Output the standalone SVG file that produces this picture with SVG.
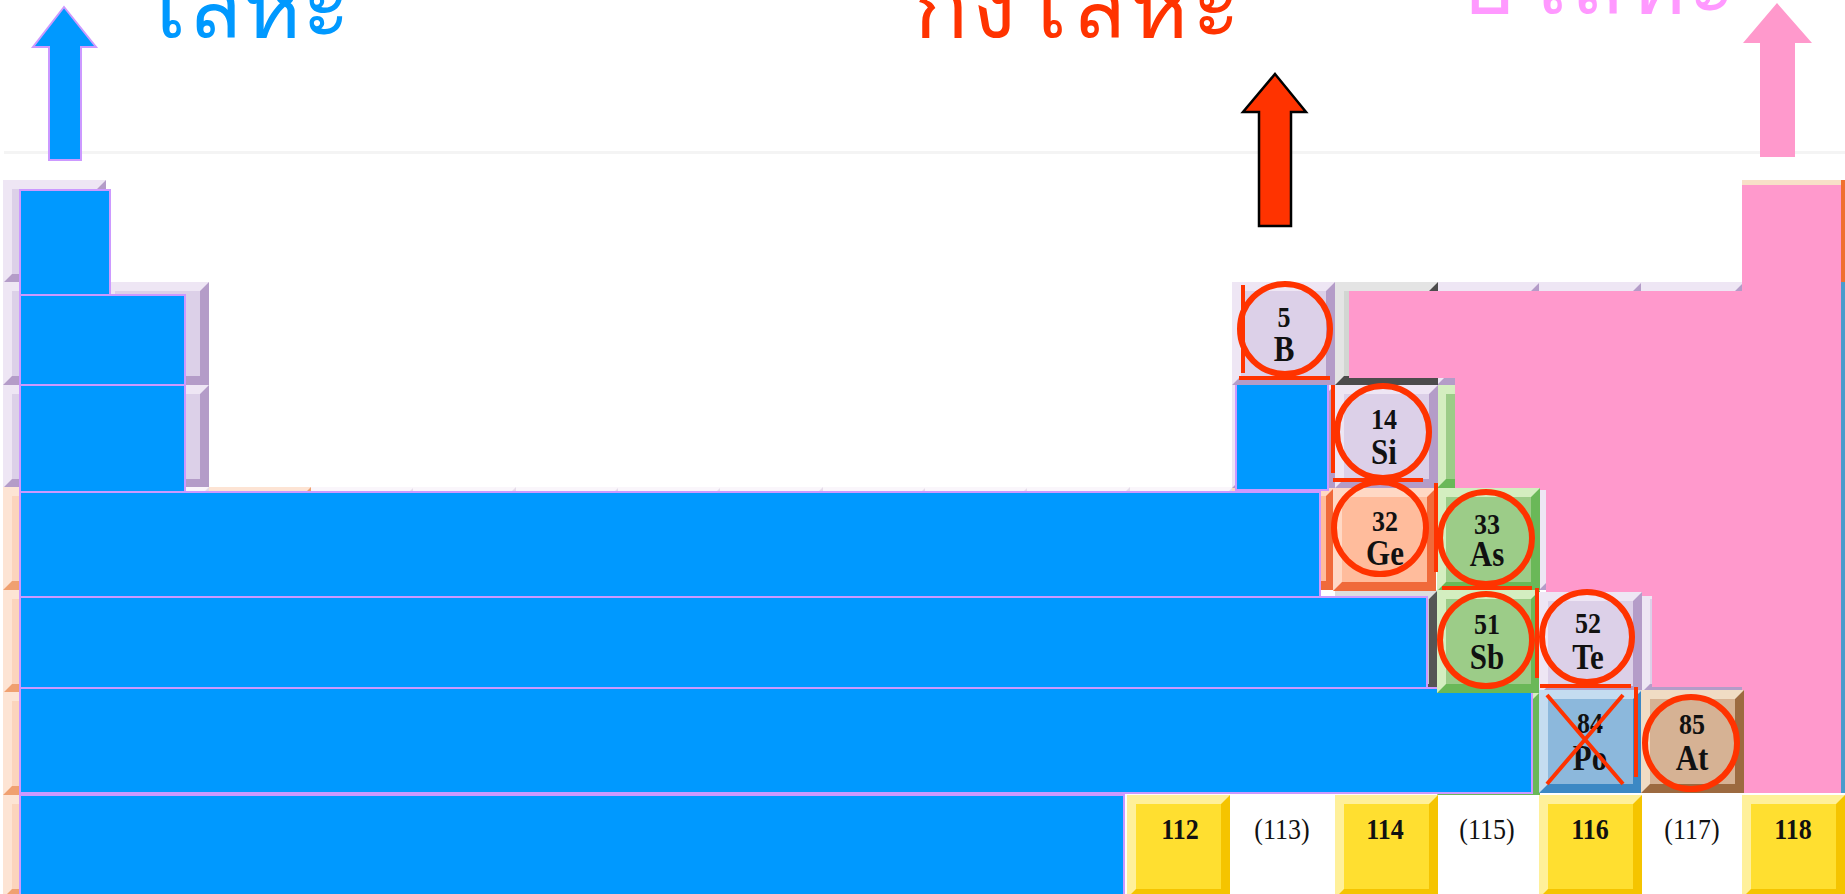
<svg xmlns="http://www.w3.org/2000/svg" width="1845" height="894" viewBox="0 0 1845 894">
<style>
.num,.sym,.lbl,.lbl2{font-family:"Liberation Serif",serif;text-anchor:middle;fill:#111;transform-box:fill-box;transform-origin:center;transform:scaleY(1.15)}
.num{font-weight:bold;font-size:26px}
.sym{font-weight:bold;font-size:31px}
.lbl{font-weight:bold;font-size:26px}
.lbl2{font-size:26px}
.thai{font-family:"Noto Sans",sans-serif;font-size:90px}
.lav{--dk:#b49cc8;--lt:#eee6f4;--fc:#dcd0e8}
.gry{--dk:#4c4c4c;--lt:#e4e4e4;--fc:#d2d6d2}
.grn{--dk:#6ab858;--lt:#d4eec0;--fc:#9ccc88}
.org{--dk:#f06a3a;--lt:#ffd8c4;--fc:#ffbc9c}
.pch{--dk:#f0a070;--lt:#fde4d4;--fc:#fcd4bc}
.blu{--dk:#3c88c4;--lt:#c4dcf0;--fc:#8cb8dc}
.brn{--dk:#9c6a40;--lt:#f0dcc4;--fc:#d6b294}
.ylw{--dk:#f5c400;--lt:#fff09a;--fc:#ffdf30}
.dgr{--dk:#555555;--lt:#dddddd;--fc:#c8c8c8}
.pal{--dk:#e6dcea;--lt:#faf6fb;--fc:#f4eef6}
.metal{fill:#0099ff;stroke:#cc99ff;stroke-width:2}
.mark{fill:none;stroke:#ff3300;stroke-width:6}
.mline{stroke:#ff3300;stroke-width:4;fill:none}
</style>
<defs>
<g id="cellshape">
<rect style="fill:var(--dk)" width="103" height="103"/>
<polygon style="fill:var(--lt)" points="0,0 103,0 94,9 9,9 9,94 0,103"/>
<rect style="fill:var(--fc)" x="9" y="9" width="85" height="85"/>
</g>
</defs>
<rect width="1845" height="894" fill="#ffffff"/>
<rect x="4" y="151" width="1841" height="3" fill="#f4f4f4"/>

<g id="table-background">
<g class="lav"><use href="#cellshape" x="3" y="180"/><use href="#cellshape" x="3" y="282"/><use href="#cellshape" x="3" y="385"/>
<use href="#cellshape" x="106" y="282"/><use href="#cellshape" x="106" y="385"/></g>
<g class="pch"><use href="#cellshape" x="3" y="487"/><use href="#cellshape" x="3" y="590"/><use href="#cellshape" x="3" y="692"/><use href="#cellshape" x="3" y="795"/><use href="#cellshape" x="208" y="487"/></g>
<g class="pal"><use href="#cellshape" x="106" y="487"/><use href="#cellshape" x="311" y="487"/><use href="#cellshape" x="413" y="487"/><use href="#cellshape" x="516" y="487"/><use href="#cellshape" x="618" y="487"/><use href="#cellshape" x="720" y="487"/><use href="#cellshape" x="823" y="487"/><use href="#cellshape" x="925" y="487"/><use href="#cellshape" x="1027" y="487"/><use href="#cellshape" x="1130" y="487"/></g>
<g class="org"><use href="#cellshape" x="1232" y="487"/></g>
<g class="lav"><use href="#cellshape" x="1437" y="282"/><use href="#cellshape" x="1539" y="282"/><use href="#cellshape" x="1641" y="282"/><use href="#cellshape" x="1232" y="385"/><use href="#cellshape" x="1539" y="487"/><use href="#cellshape" x="1641" y="590"/></g>
<g class="gry"><use href="#cellshape" x="1335" y="282"/></g>
<g class="grn"><use href="#cellshape" x="1437" y="385"/><use href="#cellshape" x="1437" y="692"/></g>
<g class="dgr"><use href="#cellshape" x="1335" y="590"/></g>
<rect x="1742" y="180" width="103" height="8" fill="#f8e0c8"/>
<rect x="1841" y="180" width="4" height="102" fill="#f07030"/>
<rect x="1841" y="282" width="4" height="511" fill="#4a9ccc"/>
</g>

<g id="metals">
<rect class="metal" x="20" y="190" width="90" height="105"/>
<rect class="metal" x="20" y="295" width="165" height="90"/>
<rect class="metal" x="20" y="385" width="165" height="107"/>
<rect class="metal" x="20" y="492" width="1300" height="105"/>
<rect class="metal" x="20" y="597" width="1407" height="91"/>
<rect class="metal" x="20" y="688" width="1512" height="105"/>
<rect class="metal" x="20" y="795" width="1104" height="110"/>
<rect class="metal" x="1236" y="383" width="92" height="107"/>
</g>

<g id="nonmetals">
<polygon fill="#ff99cc" points="1742,185 1841,185 1841,793 1742,793 1742,687 1652,687 1652,596 1546,596 1546,490 1455,490 1455,378 1349,378 1349,291 1742,291"/>
</g>

<g id="el-B" class="lav"><use href="#cellshape" x="1232" y="282"/><text class="num" x="1284" y="326">5</text><text class="sym" x="1284" y="359">B</text></g>
<g id="el-Si" class="lav"><use href="#cellshape" x="1335" y="385"/><text class="num" x="1384" y="428">14</text><text class="sym" x="1384" y="462">Si</text></g>
<g id="el-Ge" class="org"><use href="#cellshape" x="1333" y="488"/><text class="num" x="1385" y="530">32</text><text class="sym" x="1385" y="563">Ge</text></g>
<g id="el-As" class="grn"><use href="#cellshape" x="1437" y="488"/><text class="num" x="1487" y="533">33</text><text class="sym" x="1487" y="564">As</text></g>
<g id="el-Sb" class="grn"><use href="#cellshape" x="1437" y="590"/><text class="num" x="1487" y="633">51</text><text class="sym" x="1487" y="667">Sb</text></g>
<g id="el-Te" class="lav"><use href="#cellshape" x="1539" y="592"/><text class="num" x="1588" y="632">52</text><text class="sym" x="1588" y="667">Te</text></g>
<g id="el-Po" class="blu"><use href="#cellshape" x="1539" y="690"/><text class="num" x="1590" y="732">84</text><text class="sym" x="1590" y="768">Po</text></g>
<g id="el-At" class="brn"><use href="#cellshape" x="1641" y="690"/><text class="num" x="1692" y="733">85</text><text class="sym" x="1692" y="768">At</text></g>

<g id="el-112" class="ylw"><use href="#cellshape" x="1127" y="795"/><text class="lbl" x="1180" y="838">112</text></g>
<g id="el-113"><text class="lbl2" x="1282" y="838">(113)</text></g>
<g id="el-114" class="ylw"><use href="#cellshape" x="1335" y="795"/><text class="lbl" x="1385" y="838">114</text></g>
<g id="el-115"><text class="lbl2" x="1487" y="838">(115)</text></g>
<g id="el-116" class="ylw"><use href="#cellshape" x="1539" y="795"/><text class="lbl" x="1590" y="838">116</text></g>
<g id="el-117"><text class="lbl2" x="1692" y="838">(117)</text></g>
<g id="el-118" class="ylw"><use href="#cellshape" x="1742" y="795"/><text class="lbl" x="1793" y="838">118</text></g>

<g id="marks">
<circle class="mark" cx="1285" cy="329" r="45"/>
<circle class="mark" cx="1383" cy="432" r="46"/>
<circle class="mark" cx="1380" cy="528" r="46"/>
<circle class="mark" cx="1486" cy="538" r="46"/>
<circle class="mark" cx="1486" cy="640" r="46"/>
<circle class="mark" cx="1587" cy="637" r="45"/>
<circle class="mark" cx="1691" cy="743" r="46"/>
<path class="mline" d="M1243,285V373M1239,378H1330M1333,385V473M1333,480H1423M1436,483V572M1442,588H1532M1537,588V678M1540,686H1631M1636,687V777M1547,695L1623,784M1623,695L1547,784"/>
</g>

<g id="arrow-metal"><polygon points="64,7 96,47 81,47 81,160 49,160 49,47 33,47" fill="#0099ff" stroke="#cc99ff" stroke-width="2"/></g>
<g id="arrow-metalloid"><polygon points="1275,74 1306,112 1291,112 1291,226 1259,226 1259,112 1243,112" fill="#ff3300" stroke="#000" stroke-width="2.5"/></g>
<g id="arrow-nonmetal"><polygon points="1777,3 1812,43 1795,43 1795,157 1760,157 1760,43 1743,43" fill="#ff99cc"/></g>

<g id="labels">
<text class="thai" x="138" y="37" fill="#0099ff" textLength="212" lengthAdjust="spacing">โลหะ</text>
<text class="thai" x="914" y="37" fill="#ff3300" textLength="326" lengthAdjust="spacing">กึ่งโลหะ</text>
<text class="thai" x="1462" y="13" fill="#ff99ff" textLength="274" lengthAdjust="spacing">อโลหะ</text>
</g>
</svg>
